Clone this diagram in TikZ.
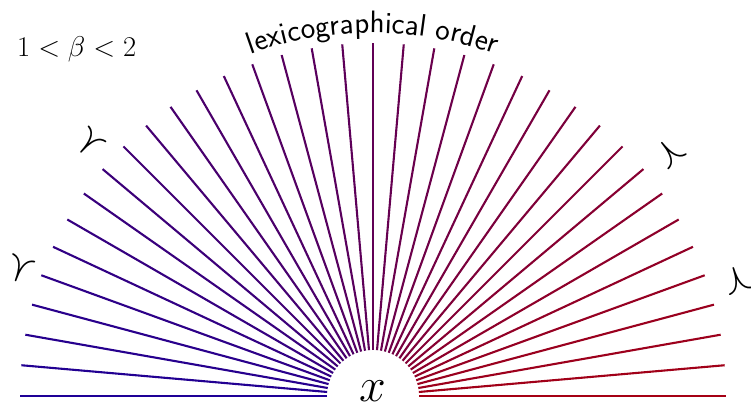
\RequirePackage{fix-cm}
\documentclass[tikz,border=0pt]{standalone}
\usetikzlibrary{decorations.text}
\definecolor{lc}{RGB}{30,0,150}
\definecolor{rc}{RGB}{165,0,20}
\tikzset{
  ray/.style={line width=2.1pt},
  sym/.style={font=\fontsize{42}{42}\selectfont, inner sep=0pt},
}
\begin{document}
\begin{tikzpicture}[x=1pt,y=1pt]
\useasboundingbox (0,0) rectangle (751,405);
\coordinate (c) at (373,9);
\foreach \i in {0,...,36}{
  \pgfmathsetmacro{\a}{5*\i}
  \pgfmathtruncatemacro{\p}{round(100*(36-\i)/36)}
  \draw[ray, color=rc!\p!lc] ([shift={(\a:46)}]c) -- ([shift={(\a:353)}]c);
}
\path[decorate, decoration={text along path, text align=center,
  text={|\sffamily\fontsize{31}{31}\selectfont|lexicographical order}}]
  ([shift={(180:363)}]c) arc[start angle=180, end angle=0, radius=363];
\node[anchor=base, font=\fontsize{48}{48}\selectfont, inner sep=0pt] (xx) at (373,3.5) {$x$};
\node[anchor=base west, font=\fontsize{28.6}{28.6}\selectfont, inner sep=0pt] (beta) at (17,348.3) {$1<\beta<2$};
\node[sym, rotate=70.3] (p1) at ([shift={(160.3:375)}]c) {$\prec$};
\node[sym, rotate=48.3] (p2) at ([shift={(138.3:380)}]c) {$\prec$};
\node[sym, rotate=-50.7] (p3) at ([shift={(39.3:384)}]c) {$\prec$};
\node[sym, rotate=-72.3] (p4) at ([shift={(17.7:383)}]c) {$\prec$};
\end{tikzpicture}
\end{document}
